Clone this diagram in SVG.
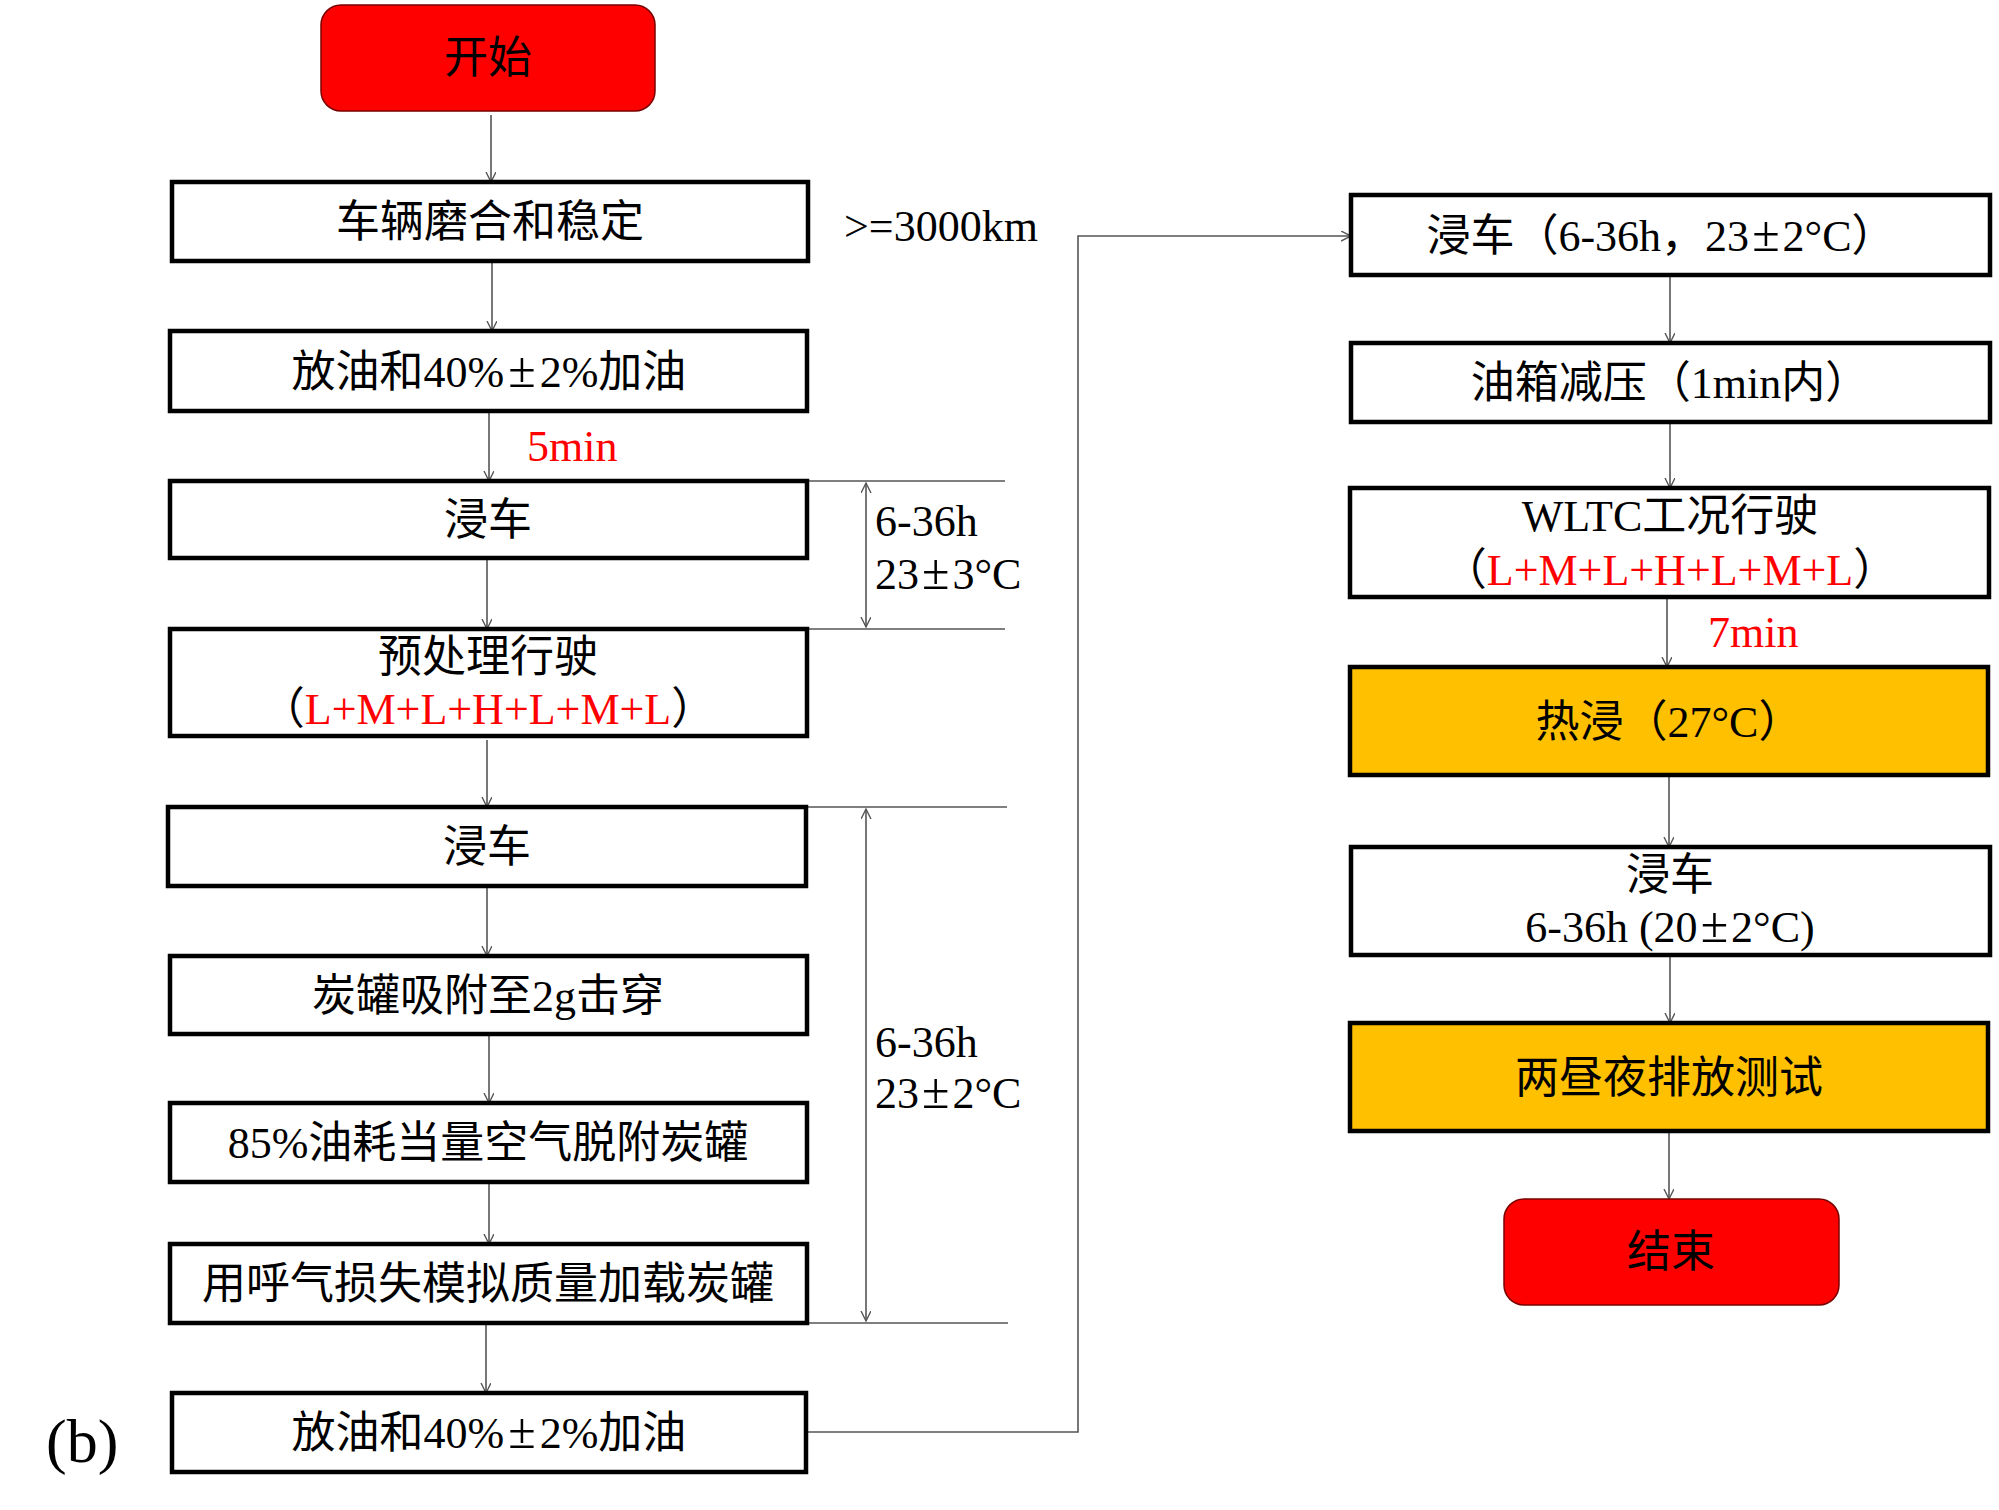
<svg xmlns="http://www.w3.org/2000/svg" width="1999" height="1510" viewBox="0 0 1999 1510">
<style>
  text { font-family: "Liberation Serif", "Noto Sans CJK SC", serif; font-size: 44px; fill: #000; }
  .box { fill: #fff; stroke: #000; stroke-width: 4.5; }
  .hot { fill: #FFC000; stroke: #000; stroke-width: 4.5; }
  .term { fill: #FF0000; stroke: #7a0000; stroke-width: 1.5; }
  .c { text-anchor: middle; }
  .red { fill: #FF0000; }
  .pm { font-size: 50px; }
  .ln { stroke: #555; stroke-width: 1.6; fill: none; }
  .arr { stroke: #555; stroke-width: 1.6; fill: none; marker-end: url(#ah); }
  .dim { stroke: #555; stroke-width: 1.6; fill: none; marker-start: url(#ahs); marker-end: url(#ah); }
  .cjk { font-family: "Noto Sans CJK SC", sans-serif; }
</style>
<defs>
  <marker id="ah" markerUnits="userSpaceOnUse" markerWidth="14" markerHeight="14" refX="10" refY="5" orient="auto">
    <path d="M0,0 L10,5 L0,10" fill="none" stroke="#555" stroke-width="1.4"/>
  </marker>
  <marker id="ahs" markerUnits="userSpaceOnUse" markerWidth="14" markerHeight="14" refX="10" refY="5" orient="auto-start-reverse">
    <path d="M0,0 L10,5 L0,10" fill="none" stroke="#555" stroke-width="1.4"/>
  </marker>
</defs>
<rect width="1999" height="1510" fill="#fff"/>

<g id="connectors">
  <path class="arr" d="M491,115 V182"/>
  <path class="arr" d="M492,261 V331"/>
  <path class="arr" d="M489,411 V481"/>
  <path class="arr" d="M487,558 V629"/>
  <path class="arr" d="M487,740 V807"/>
  <path class="arr" d="M487,886 V956"/>
  <path class="arr" d="M489,1034 V1103"/>
  <path class="arr" d="M489,1182 V1244"/>
  <path class="arr" d="M486,1324 V1393"/>
  <path class="arr" d="M807,1432 H1078 V236 H1351"/>
  <path class="arr" d="M1670,275 V343"/>
  <path class="arr" d="M1670,422 V488"/>
  <path class="arr" d="M1667,597 V667"/>
  <path class="arr" d="M1669,776 V847"/>
  <path class="arr" d="M1670,956 V1023"/>
  <path class="arr" d="M1669,1132 V1199"/>
  <path class="ln" d="M807,481 H1005 M807,629 H1005"/>
  <path class="dim" d="M866,483 V627"/>
  <path class="ln" d="M807,807 H1007 M807,1323 H1008"/>
  <path class="dim" d="M866,809 V1321"/>
</g>

<g id="start">
  <rect class="term" x="321" y="5" width="334" height="106" rx="20"/>
  <text class="c cjk" x="488" y="73">开始</text>
</g>
<g id="n1">
  <rect class="box" x="172" y="182" width="636" height="79"/>
  <text class="c" x="490" y="237">车辆磨合和稳定</text>
</g>
<g id="n1-note"><text x="844" y="241">&gt;=3000km</text></g>
<g id="n2">
  <rect class="box" x="170" y="331" width="637" height="80"/>
  <text class="c" x="489" y="387">放油和40%<tspan class="pm" dx="4">±</tspan><tspan dx="4">2%加油</tspan></text>
</g>
<g id="t5min"><text class="red" x="527" y="461">5min</text></g>
<g id="n3">
  <rect class="box" x="170" y="481" width="637" height="77"/>
  <text class="c" x="488" y="535">浸车</text>
</g>
<g id="dim1">
  <text x="875" y="536">6-36h</text>
  <text x="875" y="589">23<tspan class="pm" dx="3">±</tspan><tspan dx="3">3°C</tspan></text>
</g>
<g id="n4">
  <rect class="box" x="170" y="629" width="637" height="107"/>
  <text class="c" x="488" y="672">预处理行驶</text>
  <text class="c" x="488" y="724">（<tspan class="red">L+M+L+H+L+M+L</tspan>）</text>
</g>
<g id="n5">
  <rect class="box" x="168" y="807" width="638" height="79"/>
  <text class="c" x="487" y="862">浸车</text>
</g>
<g id="n6">
  <rect class="box" x="170" y="956" width="637" height="78"/>
  <text class="c" x="488" y="1011">炭罐吸附至2g击穿</text>
</g>
<g id="dim2">
  <text x="875" y="1057">6-36h</text>
  <text x="875" y="1108">23<tspan class="pm" dx="3">±</tspan><tspan dx="3">2°C</tspan></text>
</g>
<g id="n7">
  <rect class="box" x="170" y="1103" width="637" height="79"/>
  <text class="c" x="488" y="1158">85%油耗当量空气脱附炭罐</text>
</g>
<g id="n8">
  <rect class="box" x="170" y="1244" width="637" height="79"/>
  <text class="c" x="488" y="1299">用呼气损失模拟质量加载炭罐</text>
</g>
<g id="n9">
  <rect class="box" x="172" y="1393" width="634" height="79"/>
  <text class="c" x="489" y="1448">放油和40%<tspan class="pm" dx="4">±</tspan><tspan dx="4">2%加油</tspan></text>
</g>
<g id="label-b"><text x="46" y="1462" style="font-size:62px">(b)</text></g>

<g id="r1">
  <rect class="box" x="1351" y="195" width="639" height="80"/>
  <text class="c" x="1661" y="251">浸车（6-36h，23<tspan class="pm" dx="3">±</tspan><tspan dx="3">2°C）</tspan></text>
</g>
<g id="r2">
  <rect class="box" x="1351" y="343" width="639" height="79"/>
  <text class="c" x="1670" y="398">油箱减压（1min内）</text>
</g>
<g id="r3">
  <rect class="box" x="1350" y="488" width="639" height="109"/>
  <text class="c" x="1670" y="531">WLTC工况行驶</text>
  <text class="c" x="1670" y="585">（<tspan class="red">L+M+L+H+L+M+L</tspan>）</text>
</g>
<g id="t7min"><text class="red" x="1708" y="647">7min</text></g>
<g id="r4">
  <rect class="hot" x="1350" y="667" width="638" height="108"/>
  <text class="c" x="1669" y="737">热浸（27°C）</text>
</g>
<g id="r5">
  <rect class="box" x="1351" y="847" width="639" height="108"/>
  <text class="c" x="1670" y="890">浸车</text>
  <text class="c" x="1670" y="942">6-36h (20<tspan class="pm" dx="3">±</tspan><tspan dx="3">2°C)</tspan></text>
</g>
<g id="r6">
  <rect class="hot" x="1350" y="1023" width="638" height="108"/>
  <text class="c" x="1669" y="1093">两昼夜排放测试</text>
</g>
<g id="end">
  <rect class="term" x="1504" y="1199" width="335" height="106" rx="20"/>
  <text class="c cjk" x="1671" y="1267">结束</text>
</g>
</svg>
